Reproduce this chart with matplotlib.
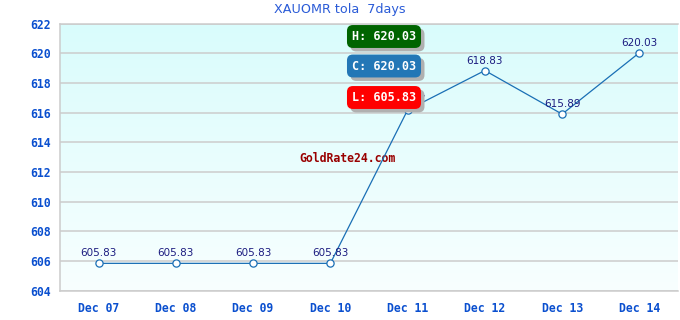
import numpy as np
import matplotlib.pyplot as plt
import matplotlib.patheffects as pe
from matplotlib.colors import LinearSegmentedColormap

days = ["Dec 07", "Dec 08", "Dec 09", "Dec 10", "Dec 11", "Dec 12", "Dec 13", "Dec 14"]
prices = [605.83, 605.83, 605.83, 605.83, 616.17, 618.83, 615.89, 620.03]
yticks = [604, 606, 608, 610, 612, 614, 616, 618, 620, 622]
high, close, low = 620.03, 620.03, 605.83

fig = plt.figure(figsize=(6.8, 3.2), dpi=100)
ax = fig.add_axes([60 / 680, 1 - 290.5 / 320, 618 / 680, 267 / 320])

x = np.arange(len(days))
ax.set_xlim(-0.5, len(days) - 0.5)
ax.set_ylim(604, 622)

# background gradient, light cyan at top fading to near white
cmap = LinearSegmentedColormap.from_list("bg", ["#f8ffff", "#d9fcfc"])
grad = np.linspace(0, 1, 256).reshape(-1, 1)
ax.imshow(grad, cmap=cmap, aspect="auto", origin="lower",
          extent=[-0.5, len(days) - 0.5, 604, 622], zorder=0)

ax.set_yticks(yticks)
ax.grid(axis="y", color="#cccccc", linewidth=1.1, zorder=1)
ax.set_axisbelow(False)
ax.spines["right"].set_visible(False)
for s in ["left", "bottom", "top"]:
    ax.spines[s].set_color("#cccccc")
    ax.spines[s].set_linewidth(1.1)

ax.plot(x, prices, color="#1a6fb5", linewidth=0.9, marker="o", markersize=5.2,
        markerfacecolor="white", markeredgecolor="#1a6fb5", markeredgewidth=0.9, zorder=3)

for xi, p in zip(x, prices):
    ax.annotate(f"{p:.2f}", (xi, p), xytext=(0, 3.5), textcoords="offset points",
                ha="center", va="bottom", fontsize=7.5, color="#1c1c80", zorder=4)

ax.set_xticks(x)
ax.set_xticklabels(days)
for lab in ax.get_xticklabels() + ax.get_yticklabels():
    lab.set_fontfamily("DejaVu Sans Mono")
    lab.set_fontweight("bold")
    lab.set_fontsize(8.3)
    lab.set_color("#0a4fcf")
ax.tick_params(axis="both", length=0)
ax.tick_params(axis="y", pad=6.5)
ax.tick_params(axis="x", pad=8)

fig.text(0.5, 1 - 10 / 320, "XAUOMR tola  7days", ha="center", va="center",
         fontsize=9.2, color="#2a5bd7")

# watermark
ax.text(348 / 680, 1 - 158 / 320, "GoldRate24.com", transform=fig.transFigure,
        ha="center", va="center", fontsize=8.3, family="DejaVu Sans Mono",
        weight="bold", color="#990000", zorder=2)

# H / C / L boxes
boxes = [("H", high, "#006400", 36.5), ("C", close, "#2377b6", 66), ("L", low, "#ff0000", 97.5)]
for letter, val, col, ypix in boxes:
    t = fig.text(384 / 680, 1 - ypix / 320, f"{letter}: {val:.2f}", ha="center", va="center",
                 fontsize=8.5, family="DejaVu Sans Mono", weight="bold", color="white", zorder=5,
                 bbox=dict(boxstyle="round,pad=0.42,rounding_size=0.5", facecolor=col,
                           edgecolor="none"))
    t.get_bbox_patch().set_path_effects([
        pe.SimplePatchShadow(offset=(2.5, -2.5), shadow_rgbFace="#b0b0b0", alpha=1),
        pe.Normal()])

fig.savefig("out.png", dpi=100)
